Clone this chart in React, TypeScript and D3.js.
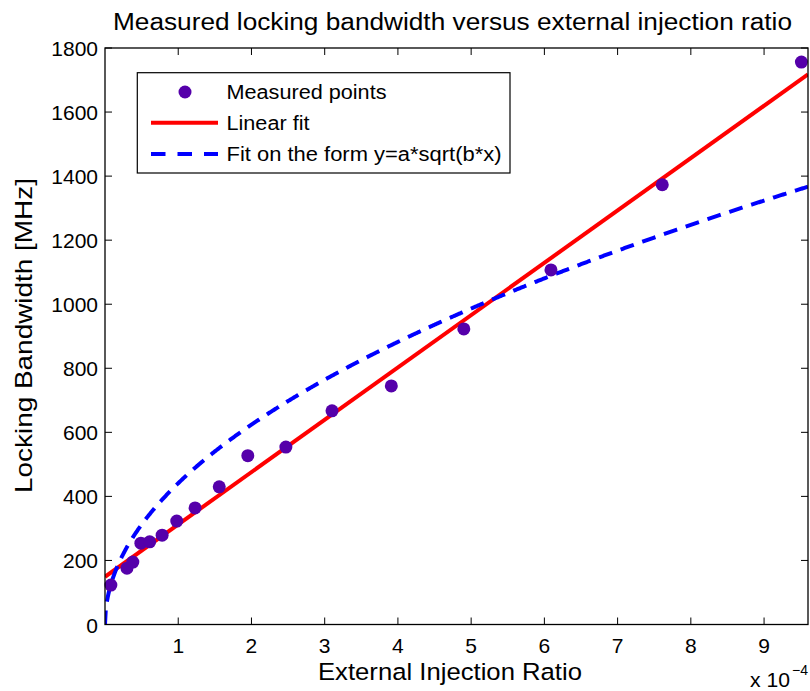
import React from "react";
import * as d3 from "d3";

const pointX = [0.08, 0.30, 0.38, 0.49, 0.61, 0.78, 0.98, 1.23, 1.56, 1.95, 2.47, 3.10, 3.91, 4.90, 6.09, 7.61, 9.51];
const pointY = [123, 176, 195, 254, 258, 279, 323, 364, 430, 527, 554, 667, 745, 923, 1107, 1373, 1756];
const linearFit = { intercept: 149, slope: 163.4 };
const sqrtFit = { a: 441.2, b: 1 };
const xTicks = [1, 2, 3, 4, 5, 6, 7, 8, 9];
const yTicks = [0, 200, 400, 600, 800, 1000, 1200, 1400, 1600, 1800];
const xDomain = [0, 9.6];
const yDomain = [0, 1800];
const legendLabels = ["Measured points", "Linear fit", "Fit on the form y=a*sqrt(b*x)"];

export default function App() {
  const W = 810, H = 691;
  const L = 105, R = 808, T = 48, B = 624.5;
  const x = d3.scaleLinear().domain(xDomain).range([L, R]);
  const y = d3.scaleLinear().domain(yDomain).range([B, T]);
  const font = "'Liberation Sans', Arial, Helvetica, sans-serif";
  const samples = d3.range(0, 961).map((i) => i / 100);
  const linPath = d3.line<number>().x((d) => x(d)).y((d) => y(linearFit.intercept + linearFit.slope * d))(xDomain);
  const sqrtPath = d3.line<number>().x((d) => x(d)).y((d) => y(sqrtFit.a * Math.sqrt(sqrtFit.b * d)))(samples);
  const purple = "#5500aa";
  return (
    <svg width={W} height={H} style={{ position: "absolute", left: 0, top: 0 }} fontFamily={font}>
      <rect x={0} y={0} width={W} height={H} fill="#fff" />
      <text x={452.5} y={30} textAnchor="middle" fontSize={23} textLength={679} lengthAdjust="spacingAndGlyphs" fill="#000">
        Measured locking bandwidth versus external injection ratio
      </text>
      <defs>
        <clipPath id="plotclip">
          <rect x={L} y={T} width={R - L} height={B - T} />
        </clipPath>
      </defs>
      <g clipPath="url(#plotclip)">
        <path d={linPath || ""} fill="none" stroke="#ff0000" strokeWidth={4} />
        <path d={sqrtPath || ""} fill="none" stroke="#0000ff" strokeWidth={4} strokeDasharray="14 9" />
      </g>
      {pointX.map((px, i) => (
        <circle key={i} cx={x(px)} cy={y(pointY[i])} r={6.5} fill={purple} />
      ))}
      <rect x={L} y={T} width={R - L} height={B - T} fill="none" stroke="#000" strokeWidth={1.3} />
      {xTicks.map((t) => (
        <g key={"x" + t}>
          <line x1={x(t)} x2={x(t)} y1={B} y2={B - 7} stroke="#000" strokeWidth={1} />
          <line x1={x(t)} x2={x(t)} y1={T} y2={T + 7} stroke="#000" strokeWidth={1} />
          <text x={x(t)} y={653} textAnchor="middle" fontSize={21} fill="#000">{t}</text>
        </g>
      ))}
      {yTicks.map((t) => (
        <g key={"y" + t}>
          <line x1={L} x2={L + 7} y1={y(t)} y2={y(t)} stroke="#000" strokeWidth={1} />
          <line x1={R} x2={R - 7} y1={y(t)} y2={y(t)} stroke="#000" strokeWidth={1} />
          <text x={98} y={y(t) + 8} textAnchor="end" fontSize={21} fill="#000">{t}</text>
        </g>
      ))}
      <text x={450} y={680} textAnchor="middle" fontSize={24.5} textLength={264} lengthAdjust="spacingAndGlyphs" fill="#000">External Injection Ratio</text>
      <text x={750} y={687} fontSize={19.5} textLength={40} lengthAdjust="spacingAndGlyphs" fill="#000">x 10</text>
      <text x={808} y={675} textAnchor="end" fontSize={14} fill="#000">−4</text>
      <text transform={`translate(32, 335.5) rotate(-90)`} textAnchor="middle" fontSize={24.5} textLength={315} lengthAdjust="spacingAndGlyphs" fill="#000">
        Locking Bandwidth [MHz]
      </text>
      <rect x={137.3} y={72.7} width={372.7} height={100.3} fill="#fff" stroke="#000" strokeWidth={1.2} />
      <circle cx={185} cy={92} r={6.5} fill={purple} />
      <line x1={151} x2={218} y1={122.7} y2={122.7} stroke="#ff0000" strokeWidth={4} />
      <line x1={151} x2={218} y1={154} y2={154} stroke="#0000ff" strokeWidth={4} strokeDasharray="14.5 12" />
      <text x={226.5} y={99} fontSize={20} textLength={160} lengthAdjust="spacingAndGlyphs" fill="#000">{legendLabels[0]}</text>
      <text x={226.5} y={129.5} fontSize={20} textLength={83} lengthAdjust="spacingAndGlyphs" fill="#000">{legendLabels[1]}</text>
      <text x={226.5} y={161} fontSize={20} textLength={275} lengthAdjust="spacingAndGlyphs" fill="#000">{legendLabels[2]}</text>
    </svg>
  );
}
